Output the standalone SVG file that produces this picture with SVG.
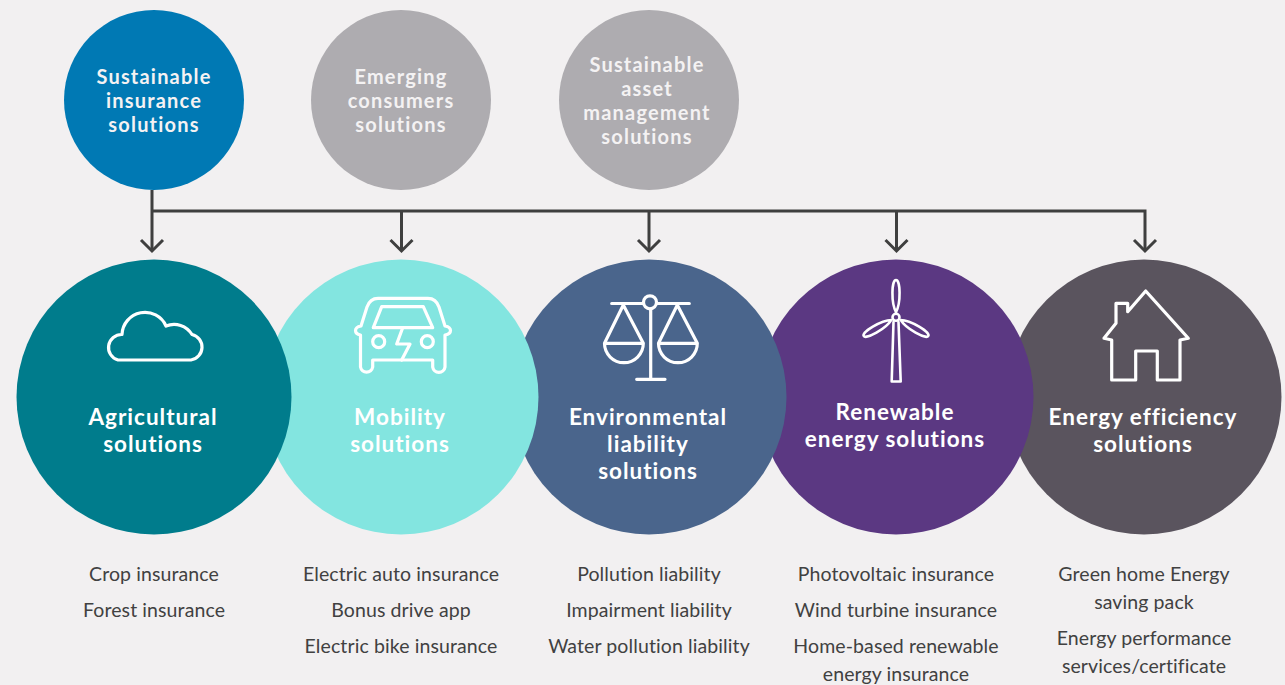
<svg xmlns="http://www.w3.org/2000/svg" width="1285" height="685" viewBox="0 0 1285 685">
<style>
text{font-family:"Lato","Open Sans","Liberation Sans",sans-serif;text-anchor:middle}
.top{font-size:20px;font-weight:700;fill:#f4f2f3;letter-spacing:1.200px}
.main{font-size:22.500px;font-weight:700;fill:#fff;letter-spacing:1px}
.item{font-size:19.500px;fill:#414141;letter-spacing:.1px}
.icon{fill:none;stroke:#fff;stroke-width:3.200;stroke-linejoin:round;stroke-linecap:round}
.conn{fill:none;stroke:#3f3f3f;stroke-width:3}
</style>
<rect width="1285" height="685" fill="#f2f0f1"/>
<g id="connectors" class="conn">
<path d="M152 190V250M152 211H1145V250M401.500 211V250M649 211V250M896.500 211V250"/>
<path d="M141 240L152 251L163 240M390.500 240L401.500 251L412.500 240M638 240L649 251L660 240M885.500 240L896.500 251L907.500 240M1134 240L1145 251L1156 240"/>
</g>
<g id="top-insurance"><circle cx="154" cy="100" r="90" fill="#0079b4"/><text class="top" x="154" y="84">Sustainable</text><text class="top" x="154" y="108">insurance</text><text class="top" x="154" y="132">solutions</text></g>
<g id="top-consumers"><circle cx="401" cy="100" r="90" fill="#aeacb0"/><text class="top" x="401" y="84">Emerging</text><text class="top" x="401" y="108">consumers</text><text class="top" x="401" y="132">solutions</text></g>
<g id="top-asset"><circle cx="649" cy="100" r="90" fill="#aeacb0"/><text class="top" x="647" y="72">Sustainable</text><text class="top" x="647" y="96">asset</text><text class="top" x="647" y="120">management</text><text class="top" x="647" y="144">solutions</text></g>
<g id="energy-efficiency"><circle cx="1144" cy="397" r="137.500" fill="#5a545e"/>
<path class="icon" d="M1111.700 380V340L1104 338.300L1116 323.300V303.300H1127.700V311.700L1145.700 291L1188.300 338.300L1180 340V380H1157.300V351H1135.700V380Z"/>
<text class="main" x="1143" y="425">Energy efficiency</text><text class="main" x="1143" y="452">solutions</text>
<text class="item" x="1144" y="581">Green home Energy</text><text class="item" x="1144" y="609">saving pack</text><text class="item" x="1144" y="645">Energy performance</text><text class="item" x="1144" y="673">services/certificate</text></g>
<g id="renewable"><circle cx="896" cy="397" r="137.500" fill="#5b3882"/>
<g class="icon" style="stroke-width:2.600"><circle cx="896" cy="317.300" r="3.500"/>
<path d="M896 312C891 303 891.500 280 896 280C900.500 280 901 303 896 312Z"/>
<path d="M896 312C891 303 891.500 280 896 280C900.500 280 901 303 896 312Z" transform="rotate(120 896 317.300)"/>
<path d="M896 312C891 303 891.500 280 896 280C900.500 280 901 303 896 312Z" transform="rotate(-120 896 317.300)"/>
<path d="M893.500 322L891.700 381.500H900.700L898.500 322"/></g>
<text class="main" x="895" y="420">Renewable</text><text class="main" x="895" y="447">energy solutions</text>
<text class="item" x="896" y="581">Photovoltaic insurance</text><text class="item" x="896" y="617">Wind turbine insurance</text><text class="item" x="896" y="653">Home-based renewable</text><text class="item" x="896" y="681">energy insurance</text></g>
<g id="environmental"><circle cx="649" cy="397" r="137.500" fill="#4a658c"/>
<g class="icon"><path d="M611.700 303.500H643.500M656.500 303.500H689.300M650.700 309V379.300M636.700 379.300H665"/><circle cx="650" cy="302.300" r="6.500"/>
<path d="M604.500 343.300L623.300 305L643.300 343.300A19.400 19.400 0 0 1 604.500 343.300H643.300"/>
<path d="M658.500 343.300L677.300 305L697.300 343.300A19.400 19.400 0 0 1 658.500 343.300H697.300"/></g>
<text class="main" x="648" y="425">Environmental</text><text class="main" x="648" y="452">liability</text><text class="main" x="648" y="479">solutions</text>
<text class="item" x="649" y="581">Pollution liability</text><text class="item" x="649" y="617">Impairment liability</text><text class="item" x="649" y="653">Water pollution liability</text></g>
<g id="mobility"><circle cx="401" cy="397" r="137.500" fill="#83e5e0"/>
<g class="icon"><path d="M361 326L367 307Q370 298.300 378 298.300H428Q436 298.300 439 307L445 326Q450.500 327 450.500 330.500Q450.500 334 445 335V367A6.200 6.200 0 0 1 432.700 367V360H372.700V367A6.200 6.200 0 0 1 360.500 367V335Q355.500 334 355.500 330.500Q355.500 327 361 326Z"/>
<path d="M373.300 327.700L381.700 306.700H423.300L432.700 327.700Z"/>
<path d="M402.700 327.700L396.700 344H410L401.700 360"/>
<circle cx="378.700" cy="341.700" r="6"/><circle cx="427.300" cy="341.700" r="6"/></g>
<text class="main" x="400" y="425">Mobility</text><text class="main" x="400" y="452">solutions</text>
<text class="item" x="401" y="581">Electric auto insurance</text><text class="item" x="401" y="617">Bonus drive app</text><text class="item" x="401" y="653">Electric bike insurance</text></g>
<g id="agricultural"><circle cx="154" cy="397" r="137.500" fill="#007c8c"/>
<path class="icon" d="M118 360H191A13 13 0 0 0 192 334.500A21 21 0 0 0 166 326A23 23 0 0 0 122 334.500A13 13 0 0 0 118 360Z"/>
<text class="main" x="153" y="425">Agricultural</text><text class="main" x="153" y="452">solutions</text>
<text class="item" x="154" y="581">Crop insurance</text><text class="item" x="154" y="617">Forest insurance</text></g>
</svg>
